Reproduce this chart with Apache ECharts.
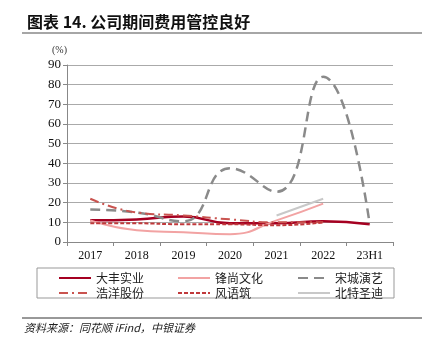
<!DOCTYPE html>
<html>
<head>
<meta charset="utf-8">
<script src="https://cdn.jsdelivr.net/npm/echarts@6/dist/echarts.min.js"></script>
<style>
  html, body { margin: 0; padding: 0; background: #fff; }
  #chart { width: 432px; height: 354px; }
</style>
</head>
<body>
<div id="chart"></div>
<script>
// 데이터
const categories = ['2017', '2018', '2019', '2020', '2021', '2022', '23H1'];
const dafeng = [11, 11.5, 13, 9.5, 9.5, 10.5, 9];
const fengshang = [11, 6, 5, 4, 11, 19.5, null];
const songcheng = [16.5, 15, 10.5, 37.5, 25.5, 84, 9];
const haoyang = [22, 15, 13.5, 11.5, 10, 10, null];
const fengyuzhu = [9.5, 9.5, 9, 9, 8.5, 10, null];
const beite = [null, null, null, null, 13.5, 22, null];

const CN = '"Noto Sans CJK SC", sans-serif';
const NUM = '"Liberation Serif", serif';

function line(name, data, color, width, type) {
    return {
        name: name,
        type: 'line',
        data: data,
        smooth: 0.5,
        symbol: 'none',
        connectNulls: false,
        lineStyle: { color: color, width: width, type: type },
        itemStyle: { color: color }
    };
}

const chart = echarts.init(document.getElementById('chart'));

const legendText = { fontFamily: CN, fontSize: 12, color: '#222' };
function legendCol(left, names) {
    return {
        orient: 'vertical',
        left: left,
        top: 267,
        itemWidth: 32,
        itemHeight: 12,
        itemGap: 3,
        itemStyle: { opacity: 0 },  // 범례 심볼(원) 숨김
        textStyle: legendText,
        data: names
    };
}

chart.setOption({
    animation: false,
    title: {
        text: '图表 14. 公司期间费用管控良好',
        left: 22,
        top: 9,
        textStyle: { fontFamily: CN, fontSize: 16, fontWeight: 'bold', color: '#111' }
    },
    graphic: [
        { type: 'line', shape: { x1: 22, y1: 33, x2: 422, y2: 33 }, style: { stroke: '#888', lineWidth: 1.5 } },
        { type: 'text', left: 52, top: 45, style: { text: '(%)', font: '10px ' + NUM, fill: '#333' } },
        { type: 'rect', shape: { x: 37, y: 268, width: 357, height: 30 }, style: { fill: 'none', stroke: '#999', lineWidth: 1 } },
        { type: 'line', shape: { x1: 22, y1: 318, x2: 422, y2: 318 }, style: { stroke: '#333', lineWidth: 1 } },
        { type: 'text', left: 24, top: 322, style: { text: '资料来源：同花顺 iFind，中银证券', font: 'italic 11px ' + CN, fill: '#222' } }
    ],
    legend: [
        legendCol(53, ['大丰实业', '浩洋股份']),
        legendCol(172, ['锋尚文化', '风语筑']),
        legendCol(292, ['宋城演艺', '北特圣迪'])
    ],
    grid: { left: 67, right: 39, top: 65, bottom: 112 },
    xAxis: {
        type: 'category',
        data: categories,
        boundaryGap: true,
        axisLine: { lineStyle: { color: '#888' } },
        axisTick: { show: true, alignWithLabel: false, length: 4, lineStyle: { color: '#888' } },
        axisLabel: { fontFamily: NUM, fontSize: 12, color: '#111', margin: 8 }
    },
    yAxis: {
        type: 'value',
        min: 0,
        max: 90,
        interval: 10,
        axisLine: { show: true, lineStyle: { color: '#888' } },
        axisTick: { show: true, length: 4, lineStyle: { color: '#888' } },
        axisLabel: { fontFamily: NUM, fontSize: 13, color: '#111', margin: 6 },
        splitLine: { lineStyle: { color: '#aaa', width: 1 } }
    },
    series: [
        line('大丰实业', dafeng, '#A50021', 2.5, 'solid'),
        line('锋尚文化', fengshang, '#F2A3A3', 2, 'solid'),
        line('宋城演艺', songcheng, '#8A8A8A', 2.5, [10, 6]),
        line('浩洋股份', haoyang, '#C9534F', 2, [9, 4, 2, 4]),
        line('风语筑', fengyuzhu, '#C0393B', 2, [4, 2]),
        line('北特圣迪', beite, '#C8C8C8', 2, 'solid')
    ]
});
</script>
</body>
</html>
